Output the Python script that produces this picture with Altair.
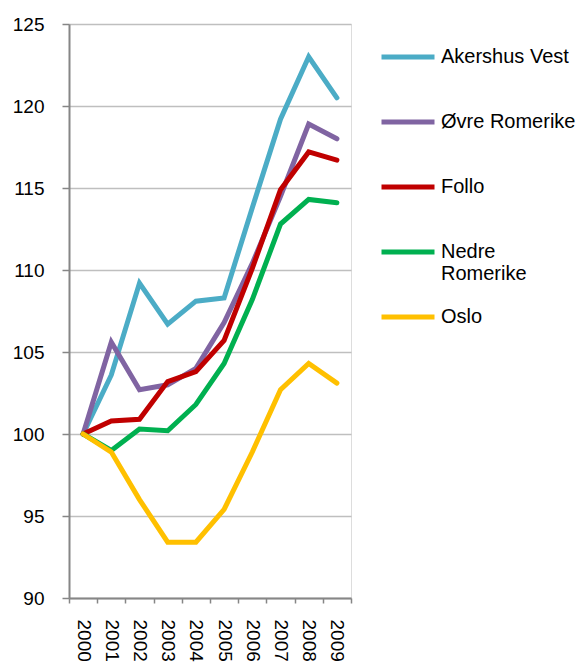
import altair as alt
import pandas as pd

years = ["2000", "2001", "2002", "2003", "2004", "2005", "2006", "2007", "2008", "2009"]
series_names = ["Akershus Vest", "Øvre Romerike", "Follo", "Nedre Romerike", "Oslo"]
colors = ["#4BACC6", "#8064A2", "#C00000", "#00B050", "#FFC000"]

akershus_vest = [100, 103.6, 109.2, 106.7, 108.1, 108.3, 113.8, 119.2, 123.0, 120.5]
ovre_romerike = [100, 105.6, 102.7, 103.0, 104.0, 106.8, 110.4, 114.5, 118.9, 118.0]
follo = [100, 100.8, 100.9, 103.2, 103.8, 105.7, 110.1, 114.9, 117.2, 116.7]
nedre_romerike = [100, 99.0, 100.3, 100.2, 101.8, 104.3, 108.2, 112.8, 114.3, 114.1]
oslo = [100, 98.9, 96.0, 93.4, 93.4, 95.4, 98.9, 102.7, 104.3, 103.1]

all_values = [akershus_vest, ovre_romerike, follo, nedre_romerike, oslo]
rows = []
for i, (name, vals) in enumerate(zip(series_names, all_values)):
    for y, v in zip(years, vals):
        rows.append({"year": y, "value": v, "series": name, "order": i})
df = pd.DataFrame(rows)

FONT = "Liberation Sans"

chart = alt.Chart(df).mark_line(strokeWidth=5, strokeCap="round").encode(
    x=alt.X("year:N", sort=years, title=None,
            scale=alt.Scale(paddingInner=0, paddingOuter=0),
            axis=alt.Axis(labelAngle=90, labelAlign="left", labelBaseline="middle",
                          labelFontSize=19, labelFont=FONT, labelColor="#000000",
                          labelPadding=16, tickBand="extent", tickSize=5,
                          tickColor="#868686", domainColor="#868686", domainWidth=2,
                          tickWidth=1.5, grid=False)),
    y=alt.Y("value:Q", title=None,
            scale=alt.Scale(domain=[90, 125], nice=False, zero=False),
            axis=alt.Axis(values=[90, 95, 100, 105, 110, 115, 120, 125],
                          labelFontSize=19, labelFont=FONT, labelColor="#000000",
                          labelPadding=18, tickSize=7, tickColor="#868686",
                          tickWidth=1.5, domainColor="#868686", domainWidth=2,
                          gridColor="#BFBFBF", gridWidth=1.5)),
    color=alt.Color("series:N", sort=series_names,
                    scale=alt.Scale(domain=series_names, range=colors),
                    legend=alt.Legend(title=None, orient="none", legendX=310, legendY=4,
                                      symbolType="stroke", symbolSize=2809,
                                      symbolStrokeWidth=5, labelFontSize=20,
                                      labelFont=FONT, labelColor="#000000",
                                      labelOffset=4, rowPadding=4,
                                      labelLimit=300,
                                      labelExpr="datum.label == 'Nedre Romerike' ? ['Nedre', 'Romerike'] : [datum.label, ' ']")),
    order=alt.Order("order:Q"),
).properties(
    width=282, height=574,
    padding={"left": 61, "top": 16, "right": 227, "bottom": 69},
    autosize=alt.AutoSizeParams(type="none"),
).configure_view(stroke=None).configure(background="white")

chart.save("out.html", embed_options={"renderer": "svg", "actions": False})
